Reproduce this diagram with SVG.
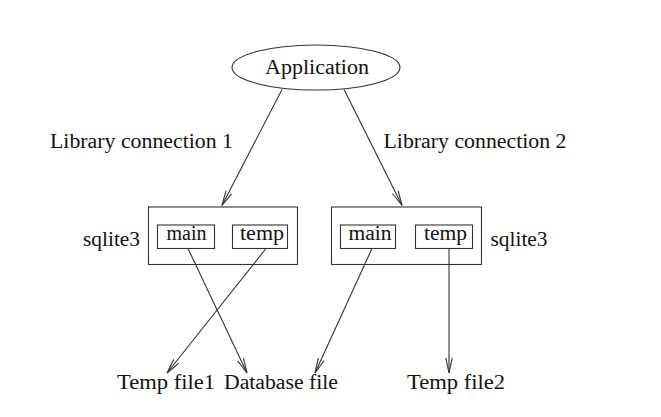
<svg xmlns="http://www.w3.org/2000/svg" width="661" height="417" viewBox="0 0 661 417">
<style>
.t{font-family:"Liberation Serif","Times New Roman",serif;font-size:20px;fill:#111}
.s{fill:none;stroke:#333;stroke-width:1.1}
.c{fill:none;stroke:#333;stroke-width:1.1;marker-end:url(#ah)}
</style>
<defs>
<marker id="ah" markerWidth="16" markerHeight="8" refX="15" refY="4" orient="auto" markerUnits="userSpaceOnUse">
<path d="M0,0.8 L15,4 L0,7.2" fill="none" stroke="#333" stroke-width="1.1"/>
</marker>
</defs>
<rect width="661" height="417" fill="#fff"/>
<g id="application">
<ellipse class="s" cx="316" cy="67.5" rx="84" ry="22.5"/>
<text class="t" x="265" y="74" textLength="104" lengthAdjust="spacingAndGlyphs">Application</text>
</g>
<g id="sqlite3-left">
<rect class="s" x="148.5" y="207" width="149" height="57.5"/>
<text class="t" x="83" y="246" textLength="57" lengthAdjust="spacingAndGlyphs">sqlite3</text>
<g id="main-left">
<rect class="s" x="157.5" y="225" width="57" height="23.5"/>
<text class="t" x="166.5" y="239.5" textLength="40" lengthAdjust="spacingAndGlyphs">main</text>
</g>
<g id="temp-left">
<rect class="s" x="232.5" y="225" width="55" height="23.5"/>
<text class="t" x="240" y="239.5" textLength="44" lengthAdjust="spacingAndGlyphs">temp</text>
</g>
</g>
<g id="sqlite3-right">
<rect class="s" x="331.5" y="207" width="150" height="57.5"/>
<text class="t" x="490.5" y="246" textLength="57" lengthAdjust="spacingAndGlyphs">sqlite3</text>
<g id="main-right">
<rect class="s" x="340.5" y="225" width="55" height="23.5"/>
<text class="t" x="348.5" y="239.5" textLength="43" lengthAdjust="spacingAndGlyphs">main</text>
</g>
<g id="temp-right">
<rect class="s" x="415.5" y="225" width="57" height="23.5"/>
<text class="t" x="424" y="239.5" textLength="43" lengthAdjust="spacingAndGlyphs">temp</text>
</g>
</g>
<g id="tempfile1">
<text class="t" x="117" y="388.5" textLength="98" lengthAdjust="spacingAndGlyphs">Temp file1</text>
</g>
<g id="databasefile">
<text class="t" x="224" y="388.5" textLength="114" lengthAdjust="spacingAndGlyphs">Database file</text>
</g>
<g id="tempfile2">
<text class="t" x="407" y="388.5" textLength="98" lengthAdjust="spacingAndGlyphs">Temp file2</text>
</g>
<g id="labels">
<text class="t" x="50" y="148" textLength="183" lengthAdjust="spacingAndGlyphs">Library connection 1</text>
<text class="t" x="383.5" y="148" textLength="183" lengthAdjust="spacingAndGlyphs">Library connection 2</text>
</g>
<g id="connectors">
<line class="c" x1="282" y1="89.5" x2="222" y2="205.5"/>
<line class="c" x1="344" y1="89.5" x2="402" y2="205.5"/>
<line class="c" x1="188" y1="248.5" x2="247" y2="373"/>
<line class="c" x1="266" y1="248.5" x2="167" y2="373"/>
<line class="c" x1="372" y1="248.5" x2="315" y2="373"/>
<line class="c" x1="449" y1="248.5" x2="449" y2="373"/>
</g>
</svg>
